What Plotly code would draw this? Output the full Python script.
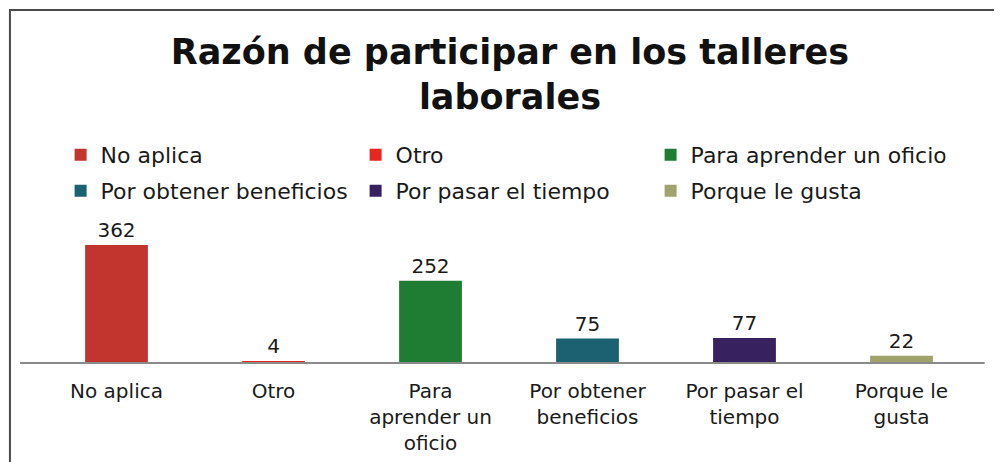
"""Razón de participar en los talleres laborales - bar chart"""
import plotly.graph_objects as go

categorias = ["No aplica", "Otro", "Para aprender un oficio",
              "Por obtener beneficios", "Por pasar el tiempo", "Porque le gusta"]
etiquetas = ["No aplica", "Otro", "Para<br>aprender un<br>oficio",
             "Por obtener<br>beneficios", "Por pasar el<br>tiempo", "Porque le<br>gusta"]
valores = [362, 4, 252, 75, 77, 22]
colores = ["#c2352f", "#e8251f", "#1f7d33", "#1b6172", "#37215f", "#a0a46c"]

FONT = "DejaVu Sans"

fig = go.Figure()
for i, (cat, lab, val, col) in enumerate(zip(categorias, etiquetas, valores, colores)):
    fig.add_trace(go.Bar(
        x=[lab],
        y=[val],
        name=cat,
        marker=dict(color=col, line=dict(width=0)),
        width=0.4,
        text=[str(val)],
        textposition='outside',
        textfont=dict(family=FONT, size=20, color="#1a1a1a"),
        cliponaxis=False,
        legend='legend' if i < 3 else 'legend2',
    ))

legend_style = dict(
    orientation='h',
    x=0.024,
    xanchor='left',
    yanchor='middle',
    font=dict(family=FONT, size=22, color="#1a1a1a"),
    entrywidth=250,
    entrywidthmode='pixels',
    bgcolor='rgba(0,0,0,0)',
    traceorder='normal',
)

fig.update_layout(
    title=dict(
        text="<b>Razón de participar en los talleres<br>laborales</b>",
        x=0.505,
        xanchor='center',
        y=0.877,
        yanchor='middle',
        font=dict(family=FONT, size=35, color="#111111"),
    ),
    barmode='overlay',
    showlegend=True,
    legend=dict(legend_style, y=1.564),
    legend2=dict(legend_style, y=1.293),
    xaxis=dict(
        tickfont=dict(family=FONT, size=20, color="#1a1a1a"),
        showline=False,
        ticks='outside',
        ticklen=10,
        tickcolor='rgba(0,0,0,0)',
        showgrid=False,
        automargin=False,
    ),
    yaxis=dict(
        range=[0, 408],
        visible=False,
        showgrid=False,
        automargin=False,
    ),
    shapes=[
        dict(type='line', xref='paper', yref='paper', x0=-0.019, x1=1.005,
             y0=0, y1=0, line=dict(color="#8a8a8a", width=2)),
        dict(type='rect', xref='paper', yref='paper', x0=-0.0298, x1=1.019,
             y0=-0.8, y1=2.654, line=dict(color="#4a4a4a", width=2)),
    ],
    margin=dict(l=30, r=22, t=222, b=99, autoexpand=False),
    plot_bgcolor='white',
    paper_bgcolor='white',
    width=994,
    height=454,
    autosize=False,
)

fig.write_html("out.html")
